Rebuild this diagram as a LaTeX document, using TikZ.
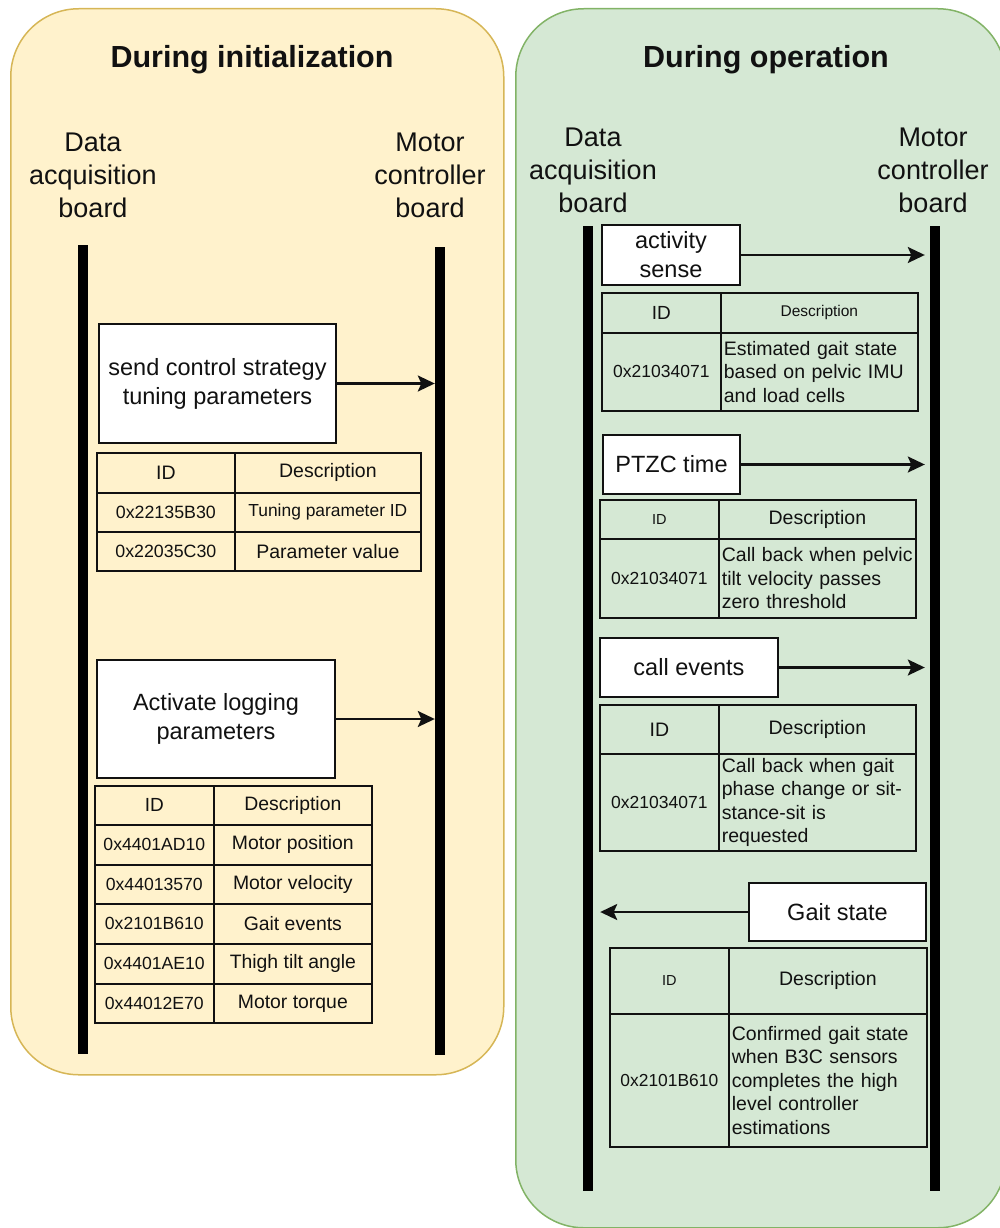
\documentclass[tikz,border=0pt]{standalone}
\usepackage{fontspec}
\setmainfont{Liberation Sans}
\usetikzlibrary{arrows.meta,calc}

\definecolor{initfill}{HTML}{FFF2CC}
\definecolor{initline}{HTML}{D6B656}
\definecolor{opfill}{HTML}{D5E8D4}
\definecolor{opline}{HTML}{82B366}
\definecolor{ink}{HTML}{111111}

\newcommand\fs[2]{\fontsize{#1pt}{#2pt}\selectfont}
% plain centred table cell: name, x, y, width, height, font size, text
\newcommand\tabcell[7]{%
  \node[cell, minimum width=#4, minimum height=#5, font=\fs{#6}{#6}] (#1) at (#2,#3) {#7};}
% left aligned multi-line description cell: name, x, y, width, height, text width, text
\newcommand\desccell[7]{%
  \node[cell, minimum width=#4, minimum height=#5, text width=#6, inner xsep=3pt,
        align=left, font=\fs{19.5}{23.5}] (#1) at (#2,#3) {#7};}

\tikzset{
  panel/.style={rounded corners=68pt, line width=1.5pt, anchor=north west, inner sep=0pt},
  paneltitle/.style={font=\bfseries\fs{30.5}{36}, text=ink},
  board/.style={align=center, font=\fs{27}{33}, text=ink, inner sep=0pt},
  lifeline/.style={fill=black, draw=none, minimum width=10pt, inner sep=0pt},
  msgbox/.style={draw=ink, fill=white, line width=2pt, align=center, anchor=north west,
                 inner sep=0pt, font=\fs{23.5}{29}, text=ink},
  cell/.style={draw=ink, line width=1.7pt, anchor=north west, inner sep=0pt, align=center, text=ink},
  msg/.style={-{Stealth[length=17pt,width=16pt,inset=3.5pt]}, line width=2.2pt, draw=ink},
}

\begin{document}
\begin{tikzpicture}[x=1pt,y=-1pt]
\useasboundingbox (0,0) rectangle (999,1228);

% ---------- panels ----------
\node[panel, draw=initline, fill=initfill, minimum width=493, minimum height=1066] (initpanel) at (10,8) {};
\node[panel, draw=opline, fill=opfill, minimum width=490, minimum height=1219] (oppanel) at (515,8) {};

\node[paneltitle] (inittitle) at (252,60) {During initialization};
\node[paneltitle] (optitle) at (766,60) {During operation};

% ---------- lifelines ----------
\node[board] (iDAlbl) at (93,175) {Data\\acquisition\\board};
\node[board] (iMClbl) at (430,175) {Motor\\controller\\board};
\node[board] (oDAlbl) at (593,170) {Data\\acquisition\\board};
\node[board] (oMClbl) at (933,170) {Motor\\controller\\board};

\node[lifeline, minimum height=809] (iDA) at (83,649.5) {};
\node[lifeline, minimum height=808] (iMC) at (440,651) {};
\node[lifeline, minimum height=965] (oDA) at (588,708.5) {};
\node[lifeline, minimum height=965] (oMC) at (935,708.5) {};

% ---------- initialization messages ----------
\node[msgbox, minimum width=237, minimum height=119] (send) at (98,323)
  {send control strategy\\tuning parameters};
\draw[msg] (send.east) -- (send.east -| iMC.west);

\tabcell{ta0a}{96}{452}{138}{40}{19.5}{ID}
\tabcell{ta0b}{234}{452}{186}{40}{19.5}{Description}
\tabcell{ta1a}{96}{492}{138}{39}{17.8}{0x22135B30}
\tabcell{ta1b}{234}{492}{186}{39}{17.4}{Tuning parameter ID}
\tabcell{ta2a}{96}{531}{138}{39}{17.8}{0x22035C30}
\tabcell{ta2b}{234}{531}{186}{39}{19.5}{Parameter value}

\node[msgbox, minimum width=238, minimum height=118] (activate) at (96,659)
  {Activate logging\\parameters};
\draw[msg] (activate.east) -- (activate.east -| iMC.west);

\tabcell{tb0a}{94}{785}{119}{39}{19}{ID}
\tabcell{tb0b}{213}{785}{158}{39}{19.4}{Description}
\tabcell{tb1a}{94}{824}{119}{40}{17.6}{0x4401AD10}
\tabcell{tb1b}{213}{824}{158}{40}{19.4}{Motor position}
\tabcell{tb2a}{94}{864}{119}{39}{17.6}{0x44013570}
\tabcell{tb2b}{213}{864}{158}{39}{19.4}{Motor velocity}
\tabcell{tb3a}{94}{903}{119}{40}{17.6}{0x2101B610}
\tabcell{tb3b}{213}{903}{158}{40}{19.4}{Gait events}
\tabcell{tb4a}{94}{943}{119}{40}{17.6}{0x4401AE10}
\tabcell{tb4b}{213}{943}{158}{40}{19.4}{Thigh tilt angle}
\tabcell{tb5a}{94}{983}{119}{39}{17.6}{0x44012E70}
\tabcell{tb5b}{213}{983}{158}{39}{19.4}{Motor torque}

% ---------- operation messages ----------
\node[msgbox, minimum width=138, minimum height=60] (activity) at (601,224)
  {activity\\sense};
\draw[msg, shorten >=5pt] (activity.east) -- (activity.east -| oMC.west);

\tabcell{tc0a}{601}{292}{119}{40}{19}{ID}
\tabcell{tc0b}{720}{292}{197}{40}{15.5}{Description}
\tabcell{tc1a}{601}{332}{119}{78}{17.5}{0x21034071}
\desccell{tc1b}{720}{332}{197}{78}{191pt}{Estimated gait state\\based on pelvic IMU\\and load cells}

\node[msgbox, minimum width=137, minimum height=59] (ptzc) at (602,434) {PTZC time};
\draw[msg, shorten >=5pt] (ptzc.east) -- (ptzc.east -| oMC.west);

\tabcell{td0a}{599}{499}{119}{39}{14.5}{ID}
\tabcell{td0b}{718}{499}{197}{39}{19.5}{Description}
\tabcell{td1a}{599}{538}{119}{79}{17.5}{0x21034071}
\desccell{td1b}{718}{538}{197}{79}{191pt}{Call back when pelvic\\tilt velocity passes\\zero threshold}

\node[msgbox, minimum width=178, minimum height=59] (callev) at (599,637) {call events};
\draw[msg, shorten >=5pt] (callev.east) -- (callev.east -| oMC.west);

\tabcell{te0a}{599}{704}{119}{49}{19.5}{ID}
\tabcell{te0b}{718}{704}{197}{49}{19.5}{Description}
\tabcell{te1a}{599}{753}{119}{97}{17.5}{0x21034071}
\desccell{te1b}{718}{753}{197}{97}{191pt}{Call back when gait\\phase change or sit-\\stance-sit is\\requested}

\node[msgbox, minimum width=177, minimum height=58] (gait) at (748,882) {Gait state};
\draw[msg, shorten >=7pt] (gait.west) -- (gait.west -| oDA.east);

\tabcell{tf0a}{609}{947}{119}{66}{14.5}{ID}
\tabcell{tf0b}{728}{947}{198}{66}{19.5}{Description}
\tabcell{tf1a}{609}{1013}{119}{133}{17.4}{0x2101B610}
\desccell{tf1b}{728}{1013}{198}{133}{192pt}{Confirmed gait state\\when B3C sensors\\completes the high\\level controller\\estimations}

\end{tikzpicture}
\end{document}
